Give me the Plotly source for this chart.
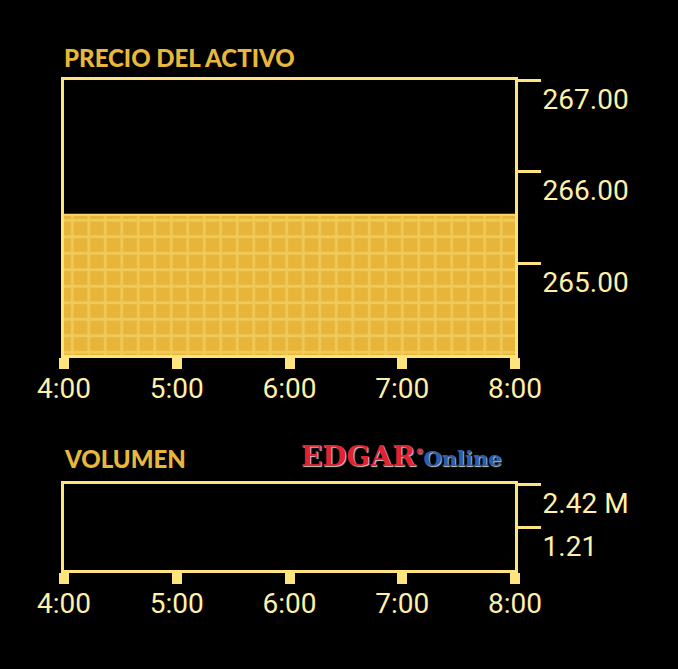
import plotly.graph_objects as go

# ---- data ----
times = ["2024-01-02 04:00", "2024-01-02 05:00", "2024-01-02 06:00", "2024-01-02 07:00", "2024-01-02 08:00"]
price = [265.53, 265.53, 265.53, 265.53, 265.53]
volume = [0, 0, 0, 0, 0]
price_ticks = [265, 266, 267]
price_tick_text = ["265.00", "266.00", "267.00"]
vol_ticks = [1210000, 2420000]
vol_tick_text = ["1.21", "2.42 M"]
x_ticks = times
x_tick_text = ["4:00", "5:00", "6:00", "7:00", "8:00"]

W, H = 678, 669
GOLD = "#E6B53A"
LINE = "#FFE47E"
LABEL = "#FFF0A8"
TICKFONT = dict(family="Roboto", size=28, color=LABEL)

fig = go.Figure()
fig.add_trace(go.Scatter(
    x=times, y=price, mode="lines", fill="tozeroy",
    line=dict(color="#F8D86A", width=2),
    fillcolor=GOLD,
    fillpattern=dict(shape="+", bgcolor=GOLD, fgcolor="#FBDD72", size=16.5, solidity=0.3),
    xaxis="x", yaxis="y", showlegend=False, hoverinfo="skip"))
fig.add_trace(go.Bar(x=times, y=volume, marker=dict(color=GOLD, line=dict(width=0)),
                     xaxis="x2", yaxis="y2", showlegend=False, hoverinfo="skip"))

xdom = [64 / W, 515 / W]
common_x = dict(
    domain=xdom, type="date", range=[times[0], times[-1]],
    tickvals=x_ticks, ticktext=x_tick_text, tickfont=TICKFONT,
    ticks="outside", ticklen=11, tickwidth=10, tickcolor=LINE,
    showline=True, linecolor=LINE, linewidth=3, mirror=True,
    showgrid=False, zeroline=False, ticklabelstandoff=-5, fixedrange=True,
    automargin=False,
)
common_y = dict(
    side="right", ticks="outside", ticklen=23, tickwidth=3, tickcolor=LINE,
    showline=True, linecolor=LINE, linewidth=3, mirror=True,
    showgrid=False, zeroline=False, tickfont=TICKFONT,
    ticklabelshift=19, ticklabelstandoff=-4, fixedrange=True, automargin=False,
)

fig.update_layout(
    width=W, height=H,
    paper_bgcolor="black", plot_bgcolor="black",
    margin=dict(l=0, r=0, t=0, b=0),
    xaxis=dict(anchor="y", **common_x),
    yaxis=dict(domain=[1 - 355 / H, 1 - 80 / H], range=[264, 267],
               tickvals=price_ticks, ticktext=price_tick_text, anchor="x", **common_y),
    xaxis2=dict(anchor="y2", **common_x),
    yaxis2=dict(domain=[1 - 570 / H, 1 - 484 / H], range=[0, 2420000],
                tickvals=vol_ticks, ticktext=vol_tick_text, anchor="x2", **common_y),
    annotations=[
        dict(text="PRECIO DEL ACTIVO", x=62 / W, y=1 - 58 / H, xref="paper", yref="paper",
             xanchor="left", yanchor="middle", showarrow=False,
             font=dict(family="Lato", size=24, color="#E8B83A", weight=900)),
        dict(text="VOLUMEN", x=62 / W, y=1 - 458 / H, xref="paper", yref="paper",
             xanchor="left", yanchor="middle", showarrow=False,
             font=dict(family="Lato", size=24, color="#E8B83A", weight=900)),
        dict(text="<span style='color:#E3222E'>EDGAR</span><sup><span style='font-size:8px;color:#E3222E'>®</span></sup>"
                  "<span style='font-size:21px;color:#2B5DAA'>Online</span>",
             x=299 / W, y=1 - 456 / H, xref="paper", yref="paper",
             xanchor="left", yanchor="middle", showarrow=False,
             font=dict(family="DejaVu Serif", size=28, color="#E3222E", weight="bold",
                       shadow="1px 1px 1px #cccccc")),
    ],
)

fig.write_html("out.html", config={"displayModeBar": False},
               post_script="document.body.style.margin='0';document.body.style.background='black';")
